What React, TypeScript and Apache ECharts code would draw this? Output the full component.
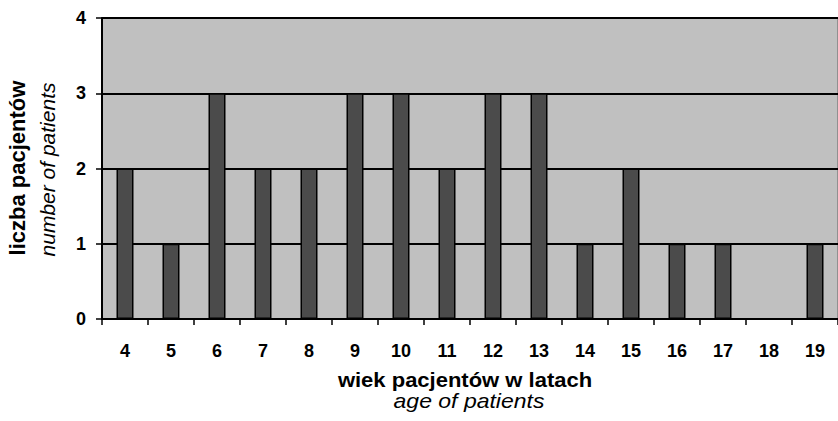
import React, { useEffect, useRef } from "react";
import * as echarts from "echarts";

// Patient ages (years) and number of patients at each age
const ages: string[] = ["4", "5", "6", "7", "8", "9", "10", "11", "12", "13", "14", "15", "16", "17", "18", "19"];
const patientCounts: number[] = [2, 1, 3, 2, 2, 3, 3, 2, 3, 3, 1, 2, 1, 1, 0, 1];
const yTicks: number[] = [0, 1, 2, 3, 4];

const FONT = "Liberation Sans, Arial, Helvetica, sans-serif";

export default function App() {
  const ref = useRef<HTMLDivElement>(null);

  useEffect(() => {
    if (!ref.current) return;
    const chart = echarts.init(ref.current, null, { renderer: "svg" });
    chart.setOption({
      animation: false,
      backgroundColor: "#ffffff",
      grid: {
        left: 102,
        top: 18,
        width: 742,
        height: 301,
        show: true,
        backgroundColor: "#c0c0c0",
        borderColor: "#808080",
        borderWidth: 1.5,
      },
      xAxis: {
        type: "category",
        data: ages,
        axisLine: { show: true, lineStyle: { color: "#000", width: 2 } },
        axisTick: { show: true, length: 6, lineStyle: { color: "#000", width: 1.5 } },
        axisLabel: {
          color: "#000",
          fontFamily: FONT,
          fontWeight: "bold",
          fontSize: 18,
          margin: 23,
        },
        splitLine: { show: false },
      },
      yAxis: {
        type: "value",
        min: yTicks[0],
        max: yTicks[yTicks.length - 1],
        interval: 1,
        axisLine: { show: true, lineStyle: { color: "#000", width: 2 } },
        axisTick: { show: true, length: 6, lineStyle: { color: "#000", width: 1.5 } },
        axisLabel: {
          color: "#000",
          fontFamily: FONT,
          fontWeight: "bold",
          fontSize: 18,
          margin: 16,
        },
        splitLine: { show: true, lineStyle: { color: "#000", width: 2 } },
      },
      series: [
        {
          type: "bar",
          data: patientCounts,
          barWidth: 17,
          itemStyle: {
            color: "#4b4b4b",
            borderColor: "#000",
            borderWidth: 1.5,
          },
        },
      ],
      graphic: [
        {
          type: "text",
          x: 17.5,
          y: 168,
          rotation: Math.PI / 2,
          style: {
            text: "liczba pacjentów",
            font: `bold 22px ${FONT}`,
            fill: "#000",
            align: "center",
            verticalAlign: "middle",
          },
        },
        {
          type: "text",
          x: 47.5,
          y: 169.5,
          rotation: Math.PI / 2,
          style: {
            text: "number of patients",
            font: `italic 21px ${FONT}`,
            fill: "#000",
            align: "center",
            verticalAlign: "middle",
          },
        },
        {
          type: "text",
          x: 465,
          y: 380,
          scaleX: 1.1,
          style: {
            text: "wiek pacjentów w latach",
            font: `bold 20px ${FONT}`,
            fill: "#000",
            align: "center",
            verticalAlign: "middle",
          },
        },
        {
          type: "text",
          x: 469,
          y: 401,
          scaleX: 1.15,
          style: {
            text: "age of patients",
            font: `italic 20px ${FONT}`,
            fill: "#000",
            align: "center",
            verticalAlign: "middle",
          },
        },
      ],
    });
    return () => chart.dispose();
  }, []);

  return (
    <div
      ref={ref}
      style={{ position: "absolute", left: 0, top: 0, width: 838, height: 421 }}
    />
  );
}
